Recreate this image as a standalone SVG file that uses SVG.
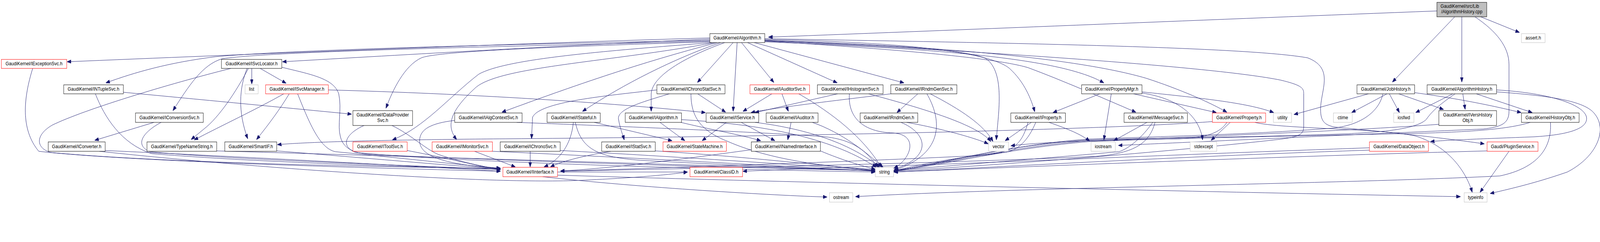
<svg xmlns="http://www.w3.org/2000/svg" width="4747" height="619" viewBox="0 0 4747 619" preserveAspectRatio="none" style="width:100%;height:100%">
<style>
.n rect{fill:#fff;stroke:#000;stroke-width:1}
.r rect{fill:#fff;stroke:#f00;stroke-width:1}
.g rect{fill:#fff;stroke:#bfbfbf;stroke-width:1}
.root rect{fill:#bfbfbf;stroke:#000;stroke-width:1}
text{font-family:"Liberation Sans",Arial,Helvetica,sans-serif;font-size:13px;fill:#000;text-anchor:middle}
#edges path{fill:none;stroke:#191970;stroke-width:1;marker-end:url(#arr)}
</style>
<defs>
<marker id="arr" markerUnits="userSpaceOnUse" markerWidth="12" markerHeight="9" refX="12" refY="4.5" orient="auto">
<path d="M0,0 L12,4.5 L0,9 z" fill="#191970" stroke="#191970"/>
</marker>
</defs>
<rect width="4747" height="619" fill="#fff"/>
<g id="edges">
<path d="M4263,28 C3600,50 2900,75 2280,95"/>
<path d="M4316,43 L4131,210"/>
<path d="M4337,43 L4337,210"/>
<path d="M4393,43 L4508,83"/>
<path d="M4376,43 C4440,80 4477,120 4477,165 L4477,285 C4477,318 4450,325 4400,330 C4000,345 3500,365 3318,372"/>
<path d="M2106,97 C1500,112 700,140 199,158"/>
<path d="M2106,100 C1700,115 1200,140 838,158"/>
<path d="M2106,103 C1600,112 900,125 640,145 C500,160 400,185 314,212"/>
<path d="M2106,105 C1600,118 850,128 660,150 C600,165 560,220 513,283"/>
<path d="M2108,107 C1700,118 1300,130 1250,148 C1200,168 1165,230 1145,277"/>
<path d="M2112,109 C1800,130 1500,150 1420,190 C1330,250 1260,325 1164,358"/>
<path d="M2120,109 C1800,160 1480,170 1410,225 C1340,280 1320,320 1355,357"/>
<path d="M2128,109 C1900,160 1700,220 1489,287"/>
<path d="M2138,109 C2000,150 1850,215 1728,285"/>
<path d="M2150,109 C2050,140 1935,190 1932,240 L1932,285"/>
<path d="M2175,109 L2069,211"/>
<path d="M2187,109 L2175,285"/>
<path d="M2200,109 L2296,211"/>
<path d="M2218,109 L2484,212"/>
<path d="M2238,109 L2682,212"/>
<path d="M2269,104 C2600,115 2870,125 2925,150 C2985,185 2960,300 2956,358"/>
<path d="M2269,101 C2700,108 2940,135 2995,175 C3040,210 3060,255 3070,286"/>
<path d="M2269,107 C2800,125 3150,150 3275,212"/>
<path d="M2269,105 C2700,128 2960,150 3050,173 C3150,205 3270,250 3370,287"/>
<path d="M2269,103 C2800,118 3200,150 3400,200 C3500,228 3590,262 3640,287"/>
<path d="M2269,99 C3000,110 3700,120 3880,148 C3960,175 3918,230 3918,280 C3918,310 3930,320 3960,325 C4150,340 4300,355 4404,368"/>
<path d="M2269,104 C2900,130 3600,170 3800,205 C3862,218 3868,225 3868,240 L3868,325 C3868,345 3850,350 3800,356 C3400,395 2900,425 2652,438"/>
<path d="M747,175 L747,215"/>
<path d="M772,175 L849,213"/>
<path d="M737,175 C700,235 650,300 605,330 L567,357"/>
<path d="M733,175 C710,225 705,285 735,355"/>
<path d="M685,175 C500,215 250,280 155,320 C105,345 105,378 150,390 C500,418 1200,428 1485,431"/>
<path d="M836,172 C920,190 990,200 1005,240 C1015,280 1000,320 1010,350 C1020,385 1060,392 1100,395 C1600,415 2300,432 2597,436"/>
<path d="M97,175 C70,250 60,330 115,387 C400,415 1200,432 1485,438"/>
<path d="M366,236 C600,255 900,280 1043,292"/>
<path d="M283,240 C310,300 360,368 450,393 C800,418 1300,428 1485,433"/>
<path d="M457,313 L281,359"/>
<path d="M478,313 C420,340 400,372 445,388 C700,410 1300,425 1485,434"/>
<path d="M312,385 C700,400 1300,428 1485,438"/>
<path d="M295,387 C700,425 1400,470 1700,462 C1900,455 2000,445 2040,440"/>
<path d="M643,386 C1200,400 2300,428 2597,437"/>
<path d="M821,386 C1100,405 1350,425 1485,432"/>
<path d="M842,240 C760,280 660,320 576,358"/>
<path d="M858,240 C830,280 800,315 761,357"/>
<path d="M974,230 C1400,240 1800,262 2093,288"/>
<path d="M883,240 C920,320 950,380 995,388 C1200,405 1400,425 1485,430"/>
<path d="M1163,321 C1220,345 1260,380 1300,395 C1380,418 1450,428 1485,434"/>
<path d="M1080,321 C1030,340 1005,372 1055,390 C1400,418 2200,434 2597,440"/>
<path d="M1208,385 C1350,408 1420,426 1485,433"/>
<path d="M1408,387 L1529,427"/>
<path d="M1461,387 C1800,400 2300,424 2597,438"/>
<path d="M1573,387 L1573,427"/>
<path d="M1662,385 C2000,400 2400,424 2597,436"/>
<path d="M1349,308 C1280,315 1245,330 1245,360 C1245,395 1300,420 1485,431"/>
<path d="M1533,313 C1900,325 2300,340 2450,350 C2550,360 2580,400 2605,428"/>
<path d="M1701,313 C1695,370 1660,410 1614,427"/>
<path d="M1763,313 L1994,360"/>
<path d="M1707,313 C1725,385 1780,402 1900,410 C2200,424 2450,432 2597,437"/>
<path d="M1812,387 C1720,400 1660,415 1633,427"/>
<path d="M1944,386 C2200,400 2450,424 2597,436"/>
<path d="M1958,313 L2032,360"/>
<path d="M2020,313 C2100,330 2200,345 2257,360"/>
<path d="M2022,306 C2300,320 2480,360 2600,428"/>
<path d="M2070,240 L2153,287"/>
<path d="M1986,240 C1900,262 1830,280 1835,305 C1840,330 1848,345 1852,358"/>
<path d="M1949,230 C1800,245 1600,260 1580,300 L1577,355"/>
<path d="M2050,240 C2050,300 2080,335 2160,362 C2300,415 2500,430 2597,433"/>
<path d="M2155,313 L2083,360"/>
<path d="M2199,313 L2299,360"/>
<path d="M2240,313 C2400,330 2530,370 2610,428"/>
<path d="M2290,240 L2204,285"/>
<path d="M2320,240 L2339,285"/>
<path d="M2370,240 C2470,290 2560,350 2615,428"/>
<path d="M2347,313 L2337,358"/>
<path d="M2410,313 C2500,340 2570,390 2620,428"/>
<path d="M2229,383 C2000,410 1800,432 1663,437"/>
<path d="M2434,386 C2500,410 2560,425 2597,433"/>
<path d="M2485,240 L2240,288"/>
<path d="M2520,240 C2515,300 2560,338 2650,340 C2730,345 2700,410 2652,430"/>
<path d="M2577,240 C2750,280 2900,320 2940,362"/>
<path d="M2723,240 L2661,288"/>
<path d="M2643,240 C2500,255 2300,275 2228,288"/>
<path d="M2750,240 C2790,300 2810,390 2653,436"/>
<path d="M2760,240 C2850,280 2920,320 2946,362"/>
<path d="M2673,313 C2750,340 2770,400 2653,433"/>
<path d="M2690,313 C2800,330 2900,355 2932,368"/>
<path d="M3060,313 L2982,360"/>
<path d="M3073,313 C3050,360 3020,385 2980,390 C2850,400 2700,425 2652,438"/>
<path d="M3112,313 C3170,330 3210,345 3233,361"/>
<path d="M3050,313 C3030,375 3000,393 2900,398 C2500,415 2000,428 1663,438"/>
<path d="M3403,313 L3304,360"/>
<path d="M3420,313 C3390,350 3350,380 3320,388 C3100,405 2800,425 2652,436"/>
<path d="M3427,313 C3410,365 3370,392 3250,400 C2800,418 2000,432 1663,438"/>
<path d="M3263,240 L3124,288"/>
<path d="M3297,240 L3275,358"/>
<path d="M3388,235 C3550,250 3700,262 3779,288"/>
<path d="M3363,240 L3609,288"/>
<path d="M3388,238 C3500,252 3560,300 3568,358"/>
<path d="M3640,313 C3620,340 3580,352 3500,355 C3300,358 3100,362 2999,373"/>
<path d="M3650,313 L3593,359"/>
<path d="M3723,313 C3800,330 4100,328 4200,348 C4300,375 4350,440 4368,492"/>
<path d="M3597,311 C3300,330 2500,348 1500,355 C1100,358 900,364 823,370"/>
<path d="M4060,240 L3839,293"/>
<path d="M4115,240 L4010,288"/>
<path d="M4122,240 L4152,288"/>
<path d="M4150,240 L4283,280"/>
<path d="M4197,237 C4350,255 4450,275 4513,288"/>
<path d="M4103,240 C4090,290 4030,322 3950,328 C3700,345 3400,350 3225,356 C3000,370 2800,418 2652,437"/>
<path d="M4310,240 L4200,288"/>
<path d="M4340,240 L4347,280"/>
<path d="M4380,240 L4546,288"/>
<path d="M4440,235 C4600,245 4700,258 4730,290 C4770,330 4740,400 4650,440 C4550,470 4470,485 4421,495"/>
<path d="M4440,230 C4600,238 4700,268 4707,300 C4712,330 4650,345 4550,350 C4400,355 4300,358 4244,362"/>
<path d="M4317,240 C4280,262 4250,282 4232,305 C4205,330 4100,338 4000,342 C3700,352 3400,352 3230,358 C3000,370 2800,415 2652,438"/>
<path d="M4269,318 C4000,335 3500,352 3230,360 C3000,375 2800,420 2652,436"/>
<path d="M4600,313 C4605,380 4560,430 4450,450 C4000,470 3000,480 2538,503"/>
<path d="M4540,313 C4460,335 4300,340 4100,343 C3600,352 3400,356 3235,362 C3000,378 2800,422 2652,438"/>
<path d="M4063,378 C3500,395 2900,418 2650,424 C2450,428 2300,435 2204,438"/>
<path d="M4063,384 C3500,400 2900,430 2652,440"/>
<path d="M4477,387 L4391,492"/>
<path d="M4412,386 C3800,400 3000,428 2652,440"/>
<path d="M1654,440 L2040,440"/>
<path d="M1654,448 C2400,468 3800,495 4333,503"/>
<path d="M1610,452 C1900,480 2300,500 2454,504"/>
</g>
<g id="node_cpp" class="root"><rect x="4263" y="6" width="148" height="37"/><text x="4274" y="20" style="text-anchor:start">GaudiKernel/src/Lib</text><text x="4337" y="34">/AlgorithmHistory.cpp</text></g>
<g id="node_algorithm" class="n"><rect x="2106" y="86" width="163" height="23"/><text x="2187.5" y="101">GaudiKernel/Algorithm.h</text></g>
<g id="node_assert" class="g"><rect x="4514" y="86" width="70" height="23"/><text x="4549" y="101">assert.h</text></g>
<g id="node_iexceptionsvc" class="r"><rect x="4" y="152" width="194" height="23"/><text x="101" y="167">GaudiKernel/IExceptionSvc.h</text></g>
<g id="node_isvclocator" class="n"><rect x="657" y="152" width="179" height="23"/><text x="746.5" y="167">GaudiKernel/ISvcLocator.h</text></g>
<g id="node_jobhistory" class="n"><rect x="4026" y="217" width="171" height="23"/><text x="4111.5" y="232">GaudiKernel/JobHistory.h</text></g>
<g id="node_algorithmhistory" class="n"><rect x="4234" y="217" width="206" height="23"/><text x="4337" y="232">GaudiKernel/AlgorithmHistory.h</text></g>
<g id="node_intuplesvc" class="n"><rect x="189" y="217" width="177" height="23"/><text x="277.5" y="232">GaudiKernel/INTupleSvc.h</text></g>
<g id="node_list" class="g"><rect x="727" y="217" width="39" height="23"/><text x="746.5" y="232">list</text></g>
<g id="node_isvcmanager" class="r"><rect x="788" y="217" width="186" height="23"/><text x="881" y="232">GaudiKernel/ISvcManager.h</text></g>
<g id="node_ichronostatsvc" class="n"><rect x="1949" y="217" width="202" height="23"/><text x="2050" y="232">GaudiKernel/IChronoStatSvc.h</text></g>
<g id="node_iauditorsvc" class="r"><rect x="2225" y="217" width="177" height="23"/><text x="2313.5" y="232">GaudiKernel/IAuditorSvc.h</text></g>
<g id="node_ihistogramsvc" class="n"><rect x="2425" y="217" width="195" height="23"/><text x="2522.5" y="232">GaudiKernel/IHistogramSvc.h</text></g>
<g id="node_irndmgensvc" class="n"><rect x="2643" y="217" width="196" height="23"/><text x="2741" y="232">GaudiKernel/IRndmGenSvc.h</text></g>
<g id="node_propertymgr" class="n"><rect x="3209" y="217" width="179" height="23"/><text x="3298.5" y="232">GaudiKernel/PropertyMgr.h</text></g>
<g id="node_iconversionsvc" class="n"><rect x="402" y="289" width="201" height="24"/><text x="502.5" y="305">GaudiKernel/IConversionSvc.h</text></g>
<g id="node_idataprovidersvc" class="n"><rect x="1047" y="283" width="177" height="38"/><text x="1135.5" y="298">GaudiKernel/IDataProvider</text><text x="1135.5" y="312">Svc.h</text></g>
<g id="node_ialgcontextsvc" class="n"><rect x="1349" y="289" width="200" height="24"/><text x="1449" y="305">GaudiKernel/IAlgContextSvc.h</text></g>
<g id="node_istateful" class="n"><rect x="1623" y="289" width="158" height="24"/><text x="1702" y="305">GaudiKernel/IStateful.h</text></g>
<g id="node_ialgorithm" class="n"><rect x="1855" y="289" width="167" height="24"/><text x="1938.5" y="305">GaudiKernel/IAlgorithm.h</text></g>
<g id="node_iservice" class="n"><rect x="2095" y="289" width="156" height="24"/><text x="2173" y="305">GaudiKernel/IService.h</text></g>
<g id="node_iauditor" class="n"><rect x="2273" y="289" width="154" height="24"/><text x="2350" y="305">GaudiKernel/IAuditor.h</text></g>
<g id="node_irndmgen" class="n"><rect x="2552" y="289" width="171" height="24"/><text x="2637.5" y="305">GaudiKernel/IRndmGen.h</text></g>
<g id="node_iproperty" class="n"><rect x="2999" y="289" width="162" height="24"/><text x="3080" y="305">GaudiKernel/IProperty.h</text></g>
<g id="node_imessagesvc" class="n"><rect x="3335" y="289" width="188" height="24"/><text x="3429" y="305">GaudiKernel/IMessageSvc.h</text></g>
<g id="node_property" class="r"><rect x="3597" y="289" width="158" height="24"/><text x="3676" y="305">GaudiKernel/Property.h</text></g>
<g id="node_utility" class="g"><rect x="3778" y="289" width="54" height="24"/><text x="3805" y="305">utility</text></g>
<g id="node_ctime" class="g"><rect x="3956" y="289" width="56" height="24"/><text x="3984" y="305">ctime</text></g>
<g id="node_iosfwd" class="g"><rect x="4135" y="289" width="60" height="24"/><text x="4165" y="305">iosfwd</text></g>
<g id="node_iversh" class="n"><rect x="4269" y="283" width="171" height="38"/><text x="4354.5" y="298">GaudiKernel/IVersHistory</text><text x="4354.5" y="312">Obj.h</text></g>
<g id="node_historyobj" class="n"><rect x="4514" y="289" width="171" height="24"/><text x="4599.5" y="305">GaudiKernel/HistoryObj.h</text></g>
<g id="node_iconverter" class="n"><rect x="143" y="363" width="169" height="24"/><text x="227.5" y="379">GaudiKernel/IConverter.h</text></g>
<g id="node_typenamestring" class="n"><rect x="436" y="363" width="207" height="24"/><text x="539.5" y="379">GaudiKernel/TypeNameString.h</text></g>
<g id="node_smartif" class="n"><rect x="667" y="363" width="154" height="24"/><text x="744" y="379">GaudiKernel/SmartIF.h</text></g>
<g id="node_itoolsvc" class="r"><rect x="1047" y="363" width="161" height="24"/><text x="1127.5" y="379">GaudiKernel/IToolSvc.h</text></g>
<g id="node_imonitorsvc" class="r"><rect x="1282" y="363" width="179" height="24"/><text x="1371.5" y="379">GaudiKernel/IMonitorSvc.h</text></g>
<g id="node_ichronosvc" class="n"><rect x="1484" y="363" width="178" height="24"/><text x="1573" y="379">GaudiKernel/IChronoSvc.h</text></g>
<g id="node_istatsvc" class="n"><rect x="1785" y="363" width="159" height="24"/><text x="1864.5" y="379">GaudiKernel/IStatSvc.h</text></g>
<g id="node_statemachine" class="r"><rect x="1967" y="363" width="188" height="24"/><text x="2061" y="379">GaudiKernel/StateMachine.h</text></g>
<g id="node_inamedinterface" class="n"><rect x="2229" y="363" width="205" height="24"/><text x="2331.5" y="379">GaudiKernel/INamedInterface.h</text></g>
<g id="node_vector" class="g"><rect x="2933" y="363" width="59" height="24"/><text x="2962.5" y="379">vector</text></g>
<g id="node_iostream" class="g"><rect x="3237" y="363" width="72" height="24"/><text x="3273" y="379">iostream</text></g>
<g id="node_stdexcept" class="g"><rect x="3531" y="363" width="79" height="24"/><text x="3570.5" y="379">stdexcept</text></g>
<g id="node_dataobject" class="r"><rect x="4063" y="363" width="175" height="24"/><text x="4150.5" y="379">GaudiKernel/DataObject.h</text></g>
<g id="node_pluginservice" class="r"><rect x="4412" y="363" width="151" height="24"/><text x="4487.5" y="379">Gaudi/PluginService.h</text></g>
<g id="node_iinterface" class="r"><rect x="1492" y="428" width="162" height="24"/><text x="1573" y="444">GaudiKernel/IInterface.h</text></g>
<g id="node_classid" class="r"><rect x="2047" y="428" width="156" height="24"/><text x="2125" y="444">GaudiKernel/ClassID.h</text></g>
<g id="node_string" class="g"><rect x="2597" y="428" width="54" height="24"/><text x="2624" y="444">string</text></g>
<g id="node_ostream" class="g"><rect x="2461" y="493" width="69" height="24"/><text x="2495.5" y="509">ostream</text></g>
<g id="node_typeinfo" class="g"><rect x="4344" y="493" width="68" height="24"/><text x="4378" y="509">typeinfo</text></g>
</svg>
